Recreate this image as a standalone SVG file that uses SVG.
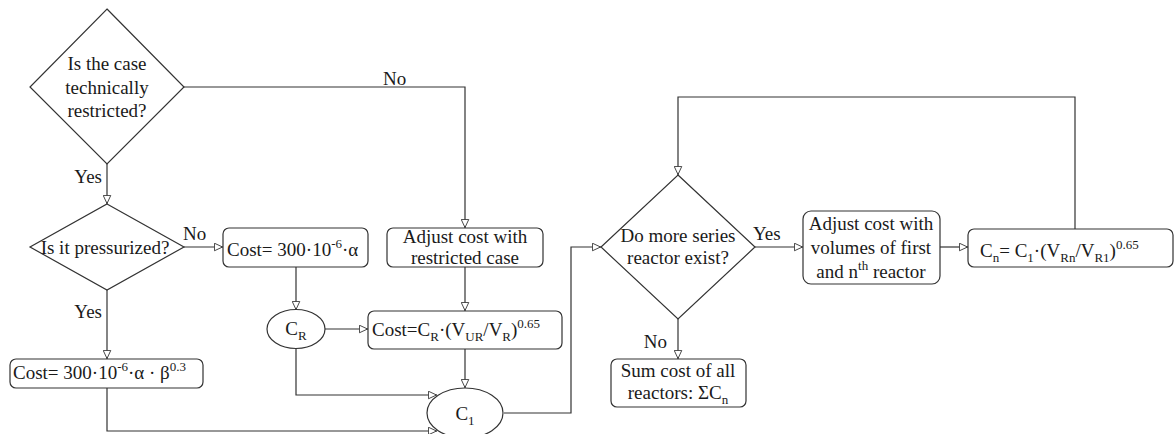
<svg xmlns="http://www.w3.org/2000/svg" width="1174" height="434" viewBox="0 0 1174 434" font-family="'Liberation Serif', 'Times New Roman', serif" font-size="19" fill="#1a1a1a">
<defs>
<marker id="arr" markerUnits="userSpaceOnUse" viewBox="0 0 10 10" refX="10" refY="5" markerWidth="10" markerHeight="9" orient="auto">
<path d="M0.5,0.8 L9.5,5 L0.5,9.2 Z" fill="#fff" stroke="#333" stroke-width="1"/>
</marker>
<style>
.s{fill:#fff;stroke:#333;stroke-width:1.2}
.c{fill:none;stroke:#333;stroke-width:1.2}
.t{font-family:'Liberation Serif','Times New Roman',serif;font-size:19px;fill:#1a1a1a}
.m{text-anchor:middle}
.sm{font-size:13px}
</style>
</defs>
<rect width="1174" height="434" fill="#fff"/>
<g id="connectors">
<path class="c" d="M184,87 H465 V228" marker-end="url(#arr)"/>
<path class="c" d="M107,164 V204" marker-end="url(#arr)"/>
<path class="c" d="M184,247 H223" marker-end="url(#arr)"/>
<path class="c" d="M107,290 V359" marker-end="url(#arr)"/>
<path class="c" d="M296,267 V310" marker-end="url(#arr)"/>
<path class="c" d="M325,329 H368" marker-end="url(#arr)"/>
<path class="c" d="M465,267 V311" marker-end="url(#arr)"/>
<path class="c" d="M465,349 V388" marker-end="url(#arr)"/>
<path class="c" d="M296,349 V395 H437" marker-end="url(#arr)"/>
<path class="c" d="M107,388 V431 H437" marker-end="url(#arr)"/>
<path class="c" d="M504,413 H571 V247 H601" marker-end="url(#arr)"/>
<path class="c" d="M755,247 H803" marker-end="url(#arr)"/>
<path class="c" d="M678,319 V359" marker-end="url(#arr)"/>
<path class="c" d="M940,247 H968" marker-end="url(#arr)"/>
<path class="c" d="M1075,229 V97 H678 V175" marker-end="url(#arr)"/>
<text class="t" x="383" y="85">No</text>
<text class="t" x="102" y="183" text-anchor="end">Yes</text>
<text class="t" x="183" y="240">No</text>
<text class="t" x="102" y="318" text-anchor="end">Yes</text>
<text class="t" x="753" y="240">Yes</text>
<text class="t" x="667" y="348" text-anchor="end">No</text>
</g>
<g id="d1">
<path class="s" d="M107,9 L184,87 L107,164 L30,87 Z"/>
<text class="t m" x="107" y="70">Is the case</text>
<text class="t m" x="107" y="94">technically</text>
<text class="t m" x="107" y="117">restricted?</text>
</g>
<g id="d2">
<path class="s" d="M107,204 L184,247 L107,290 L30,247 Z"/>
<text class="t m" x="105" y="254">Is it pressurized?</text>
</g>
<g id="cost1">
<rect class="s" x="223" y="228" width="145" height="39" rx="6"/>
<text class="t" x="227" y="256">Cost= 300·10<tspan font-size="13" dy="-8">-6</tspan><tspan dy="8">·α</tspan></text>
</g>
<g id="cost2">
<rect class="s" x="10" y="359" width="193" height="29" rx="6"/>
<text class="t" x="13" y="379">Cost= 300·10<tspan font-size="13" dy="-8">-6</tspan><tspan dy="8">·α · β</tspan><tspan font-size="13" dy="-8">0.3</tspan></text>
</g>
<g id="cr">
<ellipse class="s" cx="296" cy="329" rx="29" ry="19.5"/>
<text class="t m" x="296" y="335">C<tspan font-size="13" dy="5">R</tspan></text>
</g>
<g id="adjust1">
<rect class="s" x="387" y="228" width="156" height="39" rx="6"/>
<text class="t m" x="465" y="243">Adjust cost with</text>
<text class="t m" x="465" y="264">restricted case</text>
</g>
<g id="cost3">
<rect class="s" x="368" y="311" width="194" height="38" rx="6"/>
<text class="t" x="372" y="336">Cost=C<tspan font-size="13" dy="5">R</tspan><tspan dy="-5">·(V</tspan><tspan font-size="13" dy="5">UR</tspan><tspan dy="-5">/V</tspan><tspan font-size="13" dy="5">R</tspan><tspan dy="-5">)</tspan><tspan font-size="13" dy="-8">0.65</tspan></text>
</g>
<g id="c1">
<ellipse class="s" cx="465" cy="413" rx="38" ry="25"/>
<text class="t m" x="465" y="420">C<tspan font-size="13" dy="5">1</tspan></text>
</g>
<g id="d3">
<path class="s" d="M678,175 L755,247 L678,319 L601,247 Z"/>
<text class="t m" x="678" y="242">Do more series</text>
<text class="t m" x="678" y="264">reactor exist?</text>
</g>
<g id="sum">
<rect class="s" x="611" y="359" width="135" height="48" rx="6"/>
<text class="t m" x="678" y="377">Sum cost of all</text>
<text class="t m" x="678" y="399">reactors: ΣC<tspan font-size="13" dy="5">n</tspan></text>
</g>
<g id="adjust2">
<rect class="s" x="803" y="211" width="137" height="73" rx="8"/>
<text class="t m" x="871" y="230">Adjust cost with</text>
<text class="t m" x="871" y="254">volumes of first</text>
<text class="t m" x="871" y="278">and n<tspan font-size="13" dy="-8">th</tspan><tspan dy="8"> reactor</tspan></text>
</g>
<g id="cn">
<rect class="s" x="968" y="229" width="205" height="38" rx="6"/>
<text class="t" x="980" y="257">C<tspan font-size="13" dy="5">n</tspan><tspan dy="-5">= C</tspan><tspan font-size="13" dy="5">1</tspan><tspan dy="-5">·(V</tspan><tspan font-size="13" dy="5">Rn</tspan><tspan dy="-5">/V</tspan><tspan font-size="13" dy="5">R1</tspan><tspan dy="-5">)</tspan><tspan font-size="13" dy="-8">0.65</tspan></text>
</g>
</svg>
